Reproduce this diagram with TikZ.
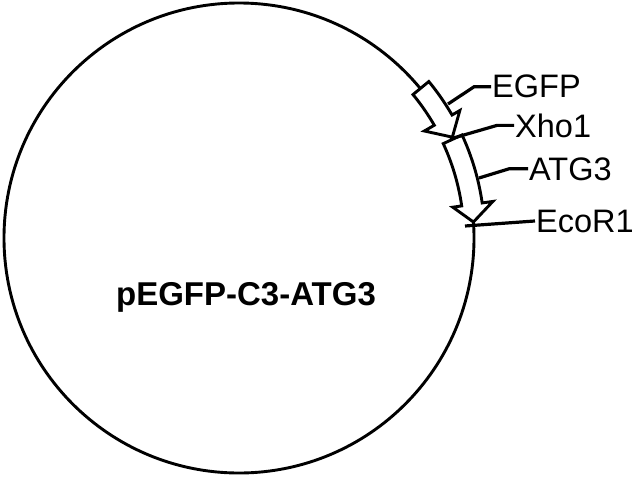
\documentclass[tikz,border=0pt]{standalone}
\usepackage{fontspec}
\setmainfont{Liberation Sans}
\usetikzlibrary{calc}
\begin{document}
\begin{tikzpicture}[x=1pt,y=-1pt,
  ring/.style={draw,circle,line width=2.9pt,inner sep=0pt,minimum size=470pt},
  lead/.style={line width=3.2pt},
  gene/.style={draw,fill=white,line width=2.9pt,line join=miter},
  lbl/.style={font=\fontsize{32.5}{32.5}\selectfont,inner sep=0pt,anchor=base west},
  title/.style={font=\bfseries\fontsize{33}{33}\selectfont,inner sep=0pt,anchor=base}]
\useasboundingbox (0,0) rectangle (636,476);
\fill[white] (0,0) rectangle (636,476);
\coordinate (c) at (239,238);
\node[ring] (plasmid) at (c) {};
% EGFP arrow
\draw[gene] plot[domain=-39.5:-30,samples=12] ({239+225.5*cos(\x)},{238+225.5*sin(\x)})
  -- ({239+214*cos(-30)},{238+214*sin(-30)})
  -- ({239+236*cos(-25.3)},{238+236*sin(-25.3)})
  -- ({239+255*cos(-30)},{238+255*sin(-30)})
  -- plot[domain=-30:-39.5,samples=12] ({239+246*cos(\x)},{238+246*sin(\x)}) -- cycle;
% ATG3 arrow
\draw[gene] plot[domain=-24.8:-8.2,samples=20] ({239+225*cos(\x)},{238+225*sin(\x)})
  -- ({239+216*cos(-8.2)},{238+216*sin(-8.2)})
  -- ({239+235*cos(-3.9)},{238+235*sin(-3.9)})
  -- ({239+256.5*cos(-8.2)},{238+256.5*sin(-8.2)})
  -- plot[domain=-8.2:-24.8,samples=20] ({239+245.7*cos(\x)},{238+245.7*sin(\x)}) -- cycle;
% labels
\node[title] (name) at (246,305) {pEGFP-C3-ATG3};
\node[lbl] (egfp) at (492,98) {EGFP};
\node[lbl] (xho) at (515,137) {Xho1};
\node[lbl] (atg) at (529,180) {ATG3};
\node[lbl] (eco) at (536,232) {EcoR1};
% leader lines
\coordinate (eS) at (448,104);
\coordinate (xS) at (450,139);
\coordinate (aS) at (479,178);
\coordinate (rS) at (465,226);
\draw[lead] (eS) -- ($(egfp.west)+(-18,0)$) -- ([xshift=-1pt]egfp.west);
\draw[lead] (xS) -- ($(xho.west)+(-18,0)$) -- ([xshift=-1pt]xho.west);
\draw[lead] (aS) -- ($(atg.west)+(-20,0)$) -- ([xshift=-1pt]atg.west);
\draw[lead] (rS) -- ([xshift=-1pt]eco.west);
\end{tikzpicture}
\end{document}
